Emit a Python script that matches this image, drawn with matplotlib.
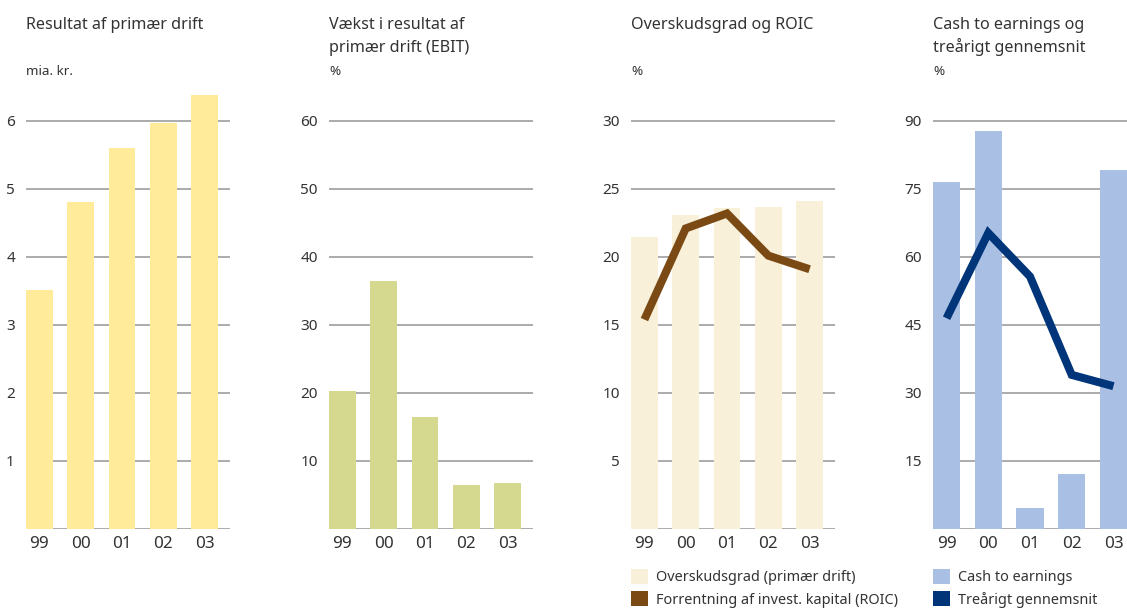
import matplotlib
matplotlib.use("Agg")
import matplotlib.pyplot as plt
from matplotlib.patches import Patch

plt.rcParams['font.family'] = ['Noto Sans', 'DejaVu Sans']

years = ["99", "00", "01", "02", "03"]

resultat = [3.51, 4.81, 5.60, 5.97, 6.38]
vaekst = [20.3, 36.5, 16.5, 6.5, 6.8]
overskudsgrad = [21.5, 23.1, 23.6, 23.7, 24.1]
roic = [15.4, 22.1, 23.2, 20.1, 19.1]
cash_to_earnings = [76.6, 87.8, 4.7, 12.1, 79.2]
trearigt = [46.5, 65.3, 55.7, 34.0, 31.5]

ticks1 = [1, 2, 3, 4, 5, 6]
ticks2 = [10, 20, 30, 40, 50, 60]
ticks3 = [5, 10, 15, 20, 25, 30]
ticks4 = [15, 30, 45, 60, 75, 90]

titles = [["Resultat af primær drift"],
          ["Vækst i resultat af", "primær drift (EBIT)"],
          ["Overskudsgrad og ROIC"],
          ["Cash to earnings og", "treårigt gennemsnit"]]
units = ["mia. kr.", "%", "%", "%"]

C_YELLOW = "#FFEB99"
C_GREEN = "#D4D98F"
C_CREAM = "#F8F0D9"
C_BROWN = "#7B4A14"
C_LBLUE = "#A9BFE3"
C_NAVY = "#00357A"
C_GRID = "#ABABAB"
C_TEXT = "#333333"

W, H = 1127, 609
fig = plt.figure(figsize=(W / 100, H / 100), dpi=100)

lefts = [26, 329, 631, 933]
widths = [204, 204, 204, 194]
bottom_px, top_px, tick_top_px = 529, 85, 121
bw = 0.65

axes = []
for i in range(4):
    ax = fig.add_axes([lefts[i] / W, (H - bottom_px) / H, widths[i] / W, (bottom_px - top_px) / H])
    axes.append(ax)

def style(ax, ticks, right_extra):
    top = ticks[-1] * (bottom_px - top_px) / (bottom_px - tick_top_px)
    ax.set_ylim(0, top)
    ax.set_xlim(-bw / 2, 4 + bw / 2 + right_extra)
    for s in ax.spines.values():
        s.set_visible(False)
    ax.set_yticks(ticks)
    ax.set_yticklabels([str(t) for t in ticks])
    ax.set_xticks(range(5))
    ax.set_xticklabels(years)
    ax.tick_params(axis='y', length=0, pad=8, labelsize=11, labelcolor=C_TEXT)
    ax.tick_params(axis='x', length=0, pad=5, labelsize=12.3, labelcolor=C_TEXT)
    for t in [0] + ticks:
        ax.axhline(t, color=C_GRID, lw=1.4, zorder=1)
    ax.set_facecolor('none')

x = list(range(5))
style(axes[0], ticks1, 0.29)
axes[0].bar(x, resultat, width=bw, color=C_YELLOW, zorder=2)

style(axes[1], ticks2, 0.29)
axes[1].bar(x, vaekst, width=bw, color=C_GREEN, zorder=2)

style(axes[2], ticks3, 0.29)
axes[2].bar(x, overskudsgrad, width=bw, color=C_CREAM, zorder=2)
axes[2].plot(x, roic, color=C_BROWN, lw=5.8, zorder=3, solid_capstyle='butt', solid_joinstyle='miter')

style(axes[3], ticks4, 0.0)
axes[3].bar(x, cash_to_earnings, width=bw, color=C_LBLUE, zorder=2)
axes[3].plot(x, trearigt, color=C_NAVY, lw=5.8, zorder=3, solid_capstyle='butt', solid_joinstyle='miter')

# Titles and units
for i in range(4):
    xf = lefts[i] / W
    for j, line in enumerate(titles[i]):
        fig.text(xf, 1 - (29 + 23 * j) / H, line, fontsize=11.6, color=C_TEXT, va='baseline', ha='left')
    fig.text(xf, 1 - 75 / H, units[i], fontsize=9.7, color=C_TEXT, va='baseline', ha='left')

# Legends
leg_items = [
    (2, [Patch(facecolor=C_CREAM, edgecolor='none'), Patch(facecolor=C_BROWN, edgecolor='none')],
     ["Overskudsgrad (primær drift)", "Forrentning af invest. kapital (ROIC)"]),
    (3, [Patch(facecolor=C_LBLUE, edgecolor='none'), Patch(facecolor=C_NAVY, edgecolor='none')],
     ["Cash to earnings", "Treårigt gennemsnit"]),
]
for idx, handles, labels in leg_items:
    leg = axes[idx].legend(handles, labels, loc='upper left',
                           bbox_to_anchor=(lefts[idx] / W, 1 - 569 / H),
                           bbox_transform=fig.transFigure,
                           frameon=False, fontsize=10.4, handlelength=1.2, handleheight=1.2,
                           handletextpad=0.55, labelspacing=0.42, borderpad=0, borderaxespad=0)
    for t in leg.get_texts():
        t.set_color(C_TEXT)

fig.savefig("out.png", dpi=100)
